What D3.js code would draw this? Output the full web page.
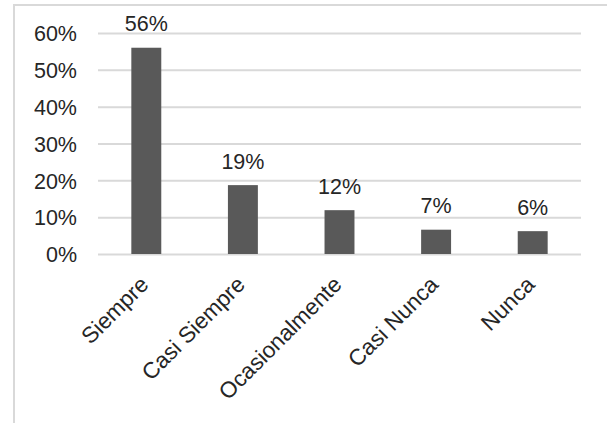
<!DOCTYPE html>
<html>
<head>
<meta charset="utf-8">
<script src="https://cdn.jsdelivr.net/npm/d3@7"></script>
<style>
  html, body { margin: 0; padding: 0; background: #fff; }
  svg { display: block; font-family: "Liberation Sans", Arial, sans-serif; }
</style>
</head>
<body>
<svg id="chart" width="607" height="423"></svg>
<script>
// Frecuencia de respuestas
const categories = ["Siempre", "Casi Siempre", "Ocasionalmente", "Casi Nunca", "Nunca"];
const values = [0.56, 0.187, 0.119, 0.066, 0.062];
const yTicks = [0, 0.1, 0.2, 0.3, 0.4, 0.5, 0.6];

const svg = d3.select("#chart");
const W = 607, H = 423;

// chart frame
svg.append("rect")
  .attr("x", 14).attr("y", 5)
  .attr("width", W + 10).attr("height", H + 10)
  .attr("fill", "#fff")
  .attr("stroke", "#d9d9d9")
  .attr("stroke-width", 2);

const plot = { left: 98, right: 581, top: 33, bottom: 254 };

const x = d3.scaleBand()
  .domain(categories)
  .range([plot.left, plot.right])
  .paddingInner(0.69)
  .paddingOuter(0.345);

const y = d3.scaleLinear()
  .domain([0, 0.6])
  .range([plot.bottom, plot.top]);

const pct = d3.format(".0%");

// gridlines + value axis labels
const yAxis = d3.axisLeft(y)
  .tickValues(yTicks)
  .tickSize(-(plot.right - plot.left))
  .tickPadding(21)
  .tickFormat(pct);

const gy = svg.append("g")
  .attr("transform", `translate(${plot.left},0)`)
  .call(yAxis);
gy.select(".domain").remove();
gy.selectAll(".tick line")
  .attr("stroke", "#d9d9d9")
  .attr("stroke-width", 2);
gy.selectAll(".tick text")
  .attr("fill", "#262626")
  .style("font-size", "21.5px")
  .attr("dy", "0.36em");

// bars
svg.append("g").selectAll("rect")
  .data(values)
  .join("rect")
  .attr("x", (d, i) => x(categories[i]))
  .attr("y", d => y(d))
  .attr("width", x.bandwidth())
  .attr("height", d => y(0) - y(d))
  .attr("fill", "#595959");

// value labels
svg.append("g").selectAll("text")
  .data(values)
  .join("text")
  .attr("x", (d, i) => x(categories[i]) + x.bandwidth() / 2)
  .attr("y", d => y(d) - 16.5)
  .attr("text-anchor", "middle")
  .attr("fill", "#262626")
  .style("font-size", "21.5px")
  .text(d => pct(d));

// category labels
const xAxis = d3.axisBottom(x).tickSize(0).tickPadding(0);
const gx = svg.append("g")
  .attr("transform", `translate(0,${plot.bottom})`)
  .call(xAxis);
gx.select(".domain").remove();
gx.selectAll(".tick text")
  .attr("fill", "#262626")
  .style("font-size", "22.5px")
  .attr("text-anchor", "end")
  .attr("dy", null)
  .attr("y", 0)
  .attr("transform", "translate(3.5,32) rotate(-45)");
</script>
</body>
</html>
